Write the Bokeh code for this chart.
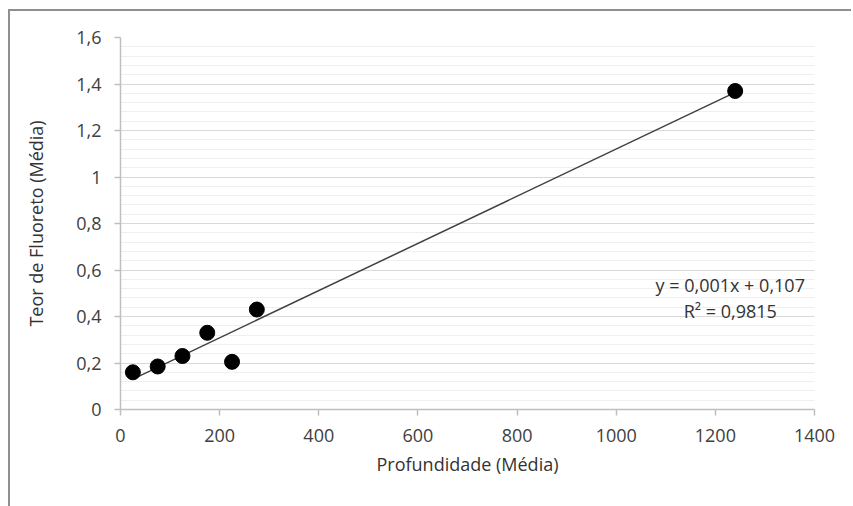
import numpy as np
from bokeh.plotting import figure
from bokeh.models import FixedTicker, Label
from bokeh.embed import file_html
from bokeh.resources import INLINE

# Data
profundidade = [25, 75, 125, 175, 225, 275, 1240]
fluoreto = [0.16, 0.185, 0.23, 0.33, 0.205, 0.43, 1.37]

x_ticks = [0, 200, 400, 600, 800, 1000, 1200, 1400]
y_ticks = [0, 0.2, 0.4, 0.6, 0.8, 1.0, 1.2, 1.4, 1.6]
y_tick_labels = ["0", "0,2", "0,4", "0,6", "0,8", "1", "1,2", "1,4", "1,6"]
y_minor = [round(i * 0.04, 2) for i in range(0, 41)]

eq_line1 = "y = 0,001x + 0,107"
eq_line2 = "R² = 0,9815"

FONT = "Open Sans"
TXT = "#404040"
FS = "18px"

p = figure(width=843, height=497, x_range=(0, 1400), y_range=(0, 1.6),
           output_backend="svg", toolbar_location=None,
           min_border_left=110, min_border_right=39,
           min_border_top=26, min_border_bottom=99)
p.outline_line_color = None
p.background_fill_color = "white"
p.border_fill_color = "white"
p.styles = {"border-left": "2px solid #8f8f8f", "border-top": "2px solid #8f8f8f",
            "margin-left": "8px", "margin-top": "9px"}

# axes
p.xaxis.ticker = FixedTicker(ticks=x_ticks)
p.yaxis.ticker = FixedTicker(ticks=y_ticks, minor_ticks=y_minor)
p.yaxis.major_label_overrides = {t: l for t, l in zip(y_ticks, y_tick_labels)}
for ax in (p.xaxis, p.yaxis):
    ax.axis_line_color = "#bfbfbf"
    ax.axis_line_width = 1.5
    ax.major_tick_line_color = "#bfbfbf"
    ax.major_tick_line_width = 1.5
    ax.major_tick_out = 6
    ax.major_tick_in = 0
    ax.minor_tick_line_color = None
    ax.major_label_text_font = FONT
    ax.major_label_text_font_size = FS
    ax.major_label_text_color = TXT
    ax.axis_label_text_font = FONT
    ax.axis_label_text_font_size = FS
    ax.axis_label_text_font_style = "normal"
    ax.axis_label_text_color = "#333333"
p.xaxis.major_label_standoff = 13
p.yaxis.major_label_standoff = 13
p.xaxis.axis_label = "Profundidade (Média)"
p.yaxis.axis_label = "Teor de Fluoreto (Média)"
p.xaxis.axis_label_standoff = 7
p.yaxis.axis_label_standoff = 25

p.xgrid.grid_line_color = None
p.ygrid.grid_line_color = "#d9d9d9"
p.ygrid.grid_line_width = 1.2
p.ygrid.minor_grid_line_color = "#efefef"
p.ygrid.minor_grid_line_width = 1

# trend line (least squares)
xa = np.array(profundidade, dtype=float)
ya = np.array(fluoreto, dtype=float)
m, b = np.polyfit(xa, ya, 1)
xl = [xa.min(), xa.max()]
p.line(xl, [m * v + b for v in xl], line_color="#404040", line_width=1.5)

p.scatter(profundidade, fluoreto, size=15, fill_color="black", line_color="black")

p.add_layout(Label(x=1230, y=0.535, text=eq_line1, text_align="center",
                   text_baseline="middle", text_font=FONT, text_font_size=FS,
                   text_color="#333333"))
p.add_layout(Label(x=1230, y=0.423, text=eq_line2, text_align="center",
                   text_baseline="middle", text_font=FONT, text_font_size=FS,
                   text_color="#333333"))

open("out.html", "w").write(file_html(p, INLINE))
